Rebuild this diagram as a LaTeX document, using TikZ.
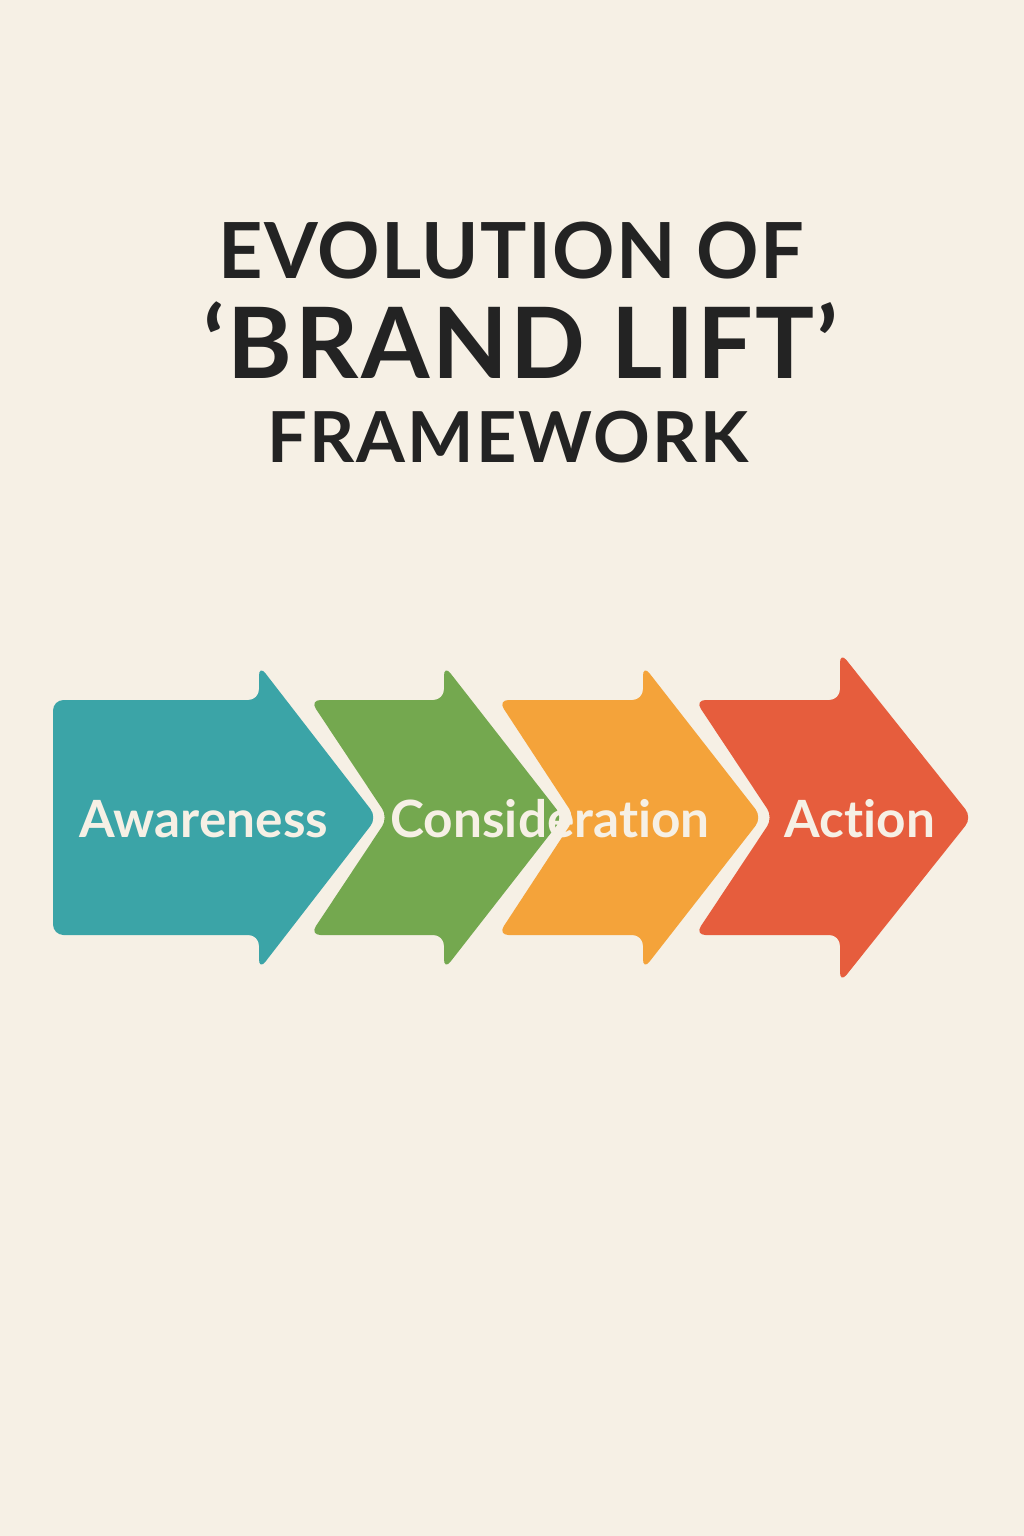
\documentclass[tikz,border=0pt]{standalone}
\usepackage{fontspec}
\setmainfont{Lato}[Ligatures=NoCommon]
\usepackage{xcolor}

\definecolor{paper}{HTML}{F6F0E5}
\definecolor{ink}{HTML}{232323}
\definecolor{teal}{HTML}{3BA4A7}
\definecolor{leaf}{HTML}{74A84F}
\definecolor{amber}{HTML}{F4A33A}
\definecolor{brick}{HTML}{E65D3D}

\tikzset{
  gap/.style={fill=paper, draw=paper, line width=5.1pt, line join=round},
  stage/.style={text=paper, font=\bfseries\fontsize{14.6}{17}\selectfont, anchor=base},
  heading/.style={text=ink, anchor=base}
}

\begin{document}
\begin{tikzpicture}[x=0.01cm, y=-0.01cm]
  \fill[paper] (0,0) rectangle (1024,1536);
  \useasboundingbox (0,0) rectangle (1024,1536);

  % Title
  \node[heading, font=\bfseries\fontsize{22}{26}\selectfont\addfontfeature{LetterSpace=1.8}] (evo) at (511,278) {EVOLUTION OF};
  \node[heading, font=\bfseries\fontsize{28}{32}\selectfont\addfontfeature{LetterSpace=2.5}] (brand) at (521,378) {‘BRAND LIFT’};
  \node[heading, font=\bfseries\fontsize{20}{24}\selectfont\addfontfeature{LetterSpace=3}] (frame) at (508,462) {FRAMEWORK};

  % Action arrow (red)
  \path[gap, rounded corners=3pt] (695,700) -- (840,700) -- (840,652) -- (972,817.5) -- (840,983) -- (840,935) -- (695,935) -- (773,817.5) -- cycle;
  \fill[brick, rounded corners=3pt] (695,700) -- (840,700) -- (840,652) -- (972,817.5) -- (840,983) -- (840,935) -- (695,935) -- (773,817.5) -- cycle;

  % Consideration arrow, second half (orange)
  \path[gap, rounded corners=3pt] (498,700) -- (643,700) -- (643,665) -- (762,817.5) -- (643,970) -- (643,935) -- (498,935) -- (575,817.5) -- cycle;
  \fill[amber, rounded corners=3pt] (498,700) -- (643,700) -- (643,665) -- (762,817.5) -- (643,970) -- (643,935) -- (498,935) -- (575,817.5) -- cycle;

  % Consideration arrow, first half (green)
  \path[gap, rounded corners=3pt] (310,700) -- (444,700) -- (444,665) -- (563,817.5) -- (444,970) -- (444,935) -- (310,935) -- (388,817.5) -- cycle;
  \fill[leaf, rounded corners=3pt] (310,700) -- (444,700) -- (444,665) -- (563,817.5) -- (444,970) -- (444,935) -- (310,935) -- (388,817.5) -- cycle;

  % Awareness arrow (teal)
  \path[gap, rounded corners=3pt] (53,700) -- (259,700) -- (259,665) -- (377,817.5) -- (259,970) -- (259,935) -- (53,935) -- cycle;
  \fill[teal, rounded corners=3pt] (53,700) -- (259,700) -- (259,665) -- (377,817.5) -- (259,970) -- (259,935) -- (53,935) -- cycle;

  % Stage labels
  \node[stage] (aware) at (204,837) {Awareness};
  \node[stage] (consid) at (550,837) {Consideration};
  \node[stage] (act) at (860,837) {Action};
\end{tikzpicture}
\end{document}
